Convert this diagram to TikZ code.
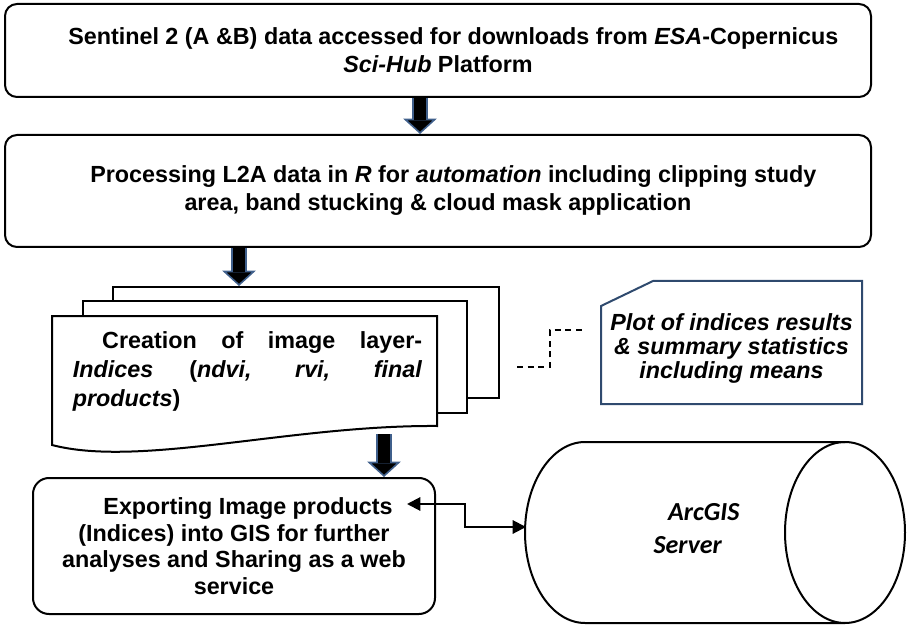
\documentclass[tikz,border=0pt]{standalone}
\usepackage{fontspec}
\setmainfont{Liberation Sans}
\newfontfamily\calibri{Carlito}
\usetikzlibrary{arrows.meta,positioning}
\definecolor{boxblue}{RGB}{47,74,110}
\definecolor{arrowblue}{RGB}{64,96,140}

\begin{document}
\begin{tikzpicture}[x=0.75pt, y=-0.75pt,
		flowbox/.style={draw, line width=1.5pt, rounded corners=9pt, align=center, inner sep=0pt,
			font=\fontsize{17.5}{21}\selectfont\bfseries},
		page/.style={draw, fill=white, line width=1.5pt, inner sep=0pt},
		bigarrow/.style={line width=9pt,
			-{Triangle[length=11.5pt, width=25pt, fill=black, color=arrowblue, line width=1.2pt]},
			preaction={draw=arrowblue, line width=11.4pt, -, shorten >=11pt},
			postaction={draw=black, line width=9pt, -, shorten >=10.5pt}},
		link/.style={line width=1.5pt, {Triangle[length=10pt, width=10pt]}-{Triangle[length=10pt, width=10pt]}},
		note/.style={line width=0.9pt, dash pattern=on 4.5pt off 3.5pt}]
		
		\useasboundingbox (0,0) rectangle (910,627);
		
		% download and pre-processing
		\node[flowbox, minimum width=649.5pt, minimum height=69.75pt] (sentinel) at (438,50.5)
		{\hspace*{23pt}Sentinel 2 (A \&B) data accessed for downloads from \textit{ESA}-Copernicus\\\textit{Sci-Hub} Platform};
		\node[flowbox, minimum width=649.5pt, minimum height=84pt, below=27pt of sentinel] (process)
		{\hspace*{23pt}Processing L2A data in \textit{R} for \textit{automation} including clipping study\\area, band stucking \& cloud mask application};
		
		% stack of image layers
		\node[page, minimum width=289.5pt, minimum height=83.25pt] (back) at (306,342.5) {};
		\node[page, minimum width=288pt, minimum height=84pt] (middle) at (275,357) {};
		\draw[page] (52,316) -- (437,316) -- (437,426) .. controls (290,425) and (140,468) .. (52,445) -- cycle;
		\node[text width=262pt, align=justify, inner sep=0pt, font=\fontsize{17.5}{21.4}\selectfont\bfseries] (layer) at (247.5,371.5)
		{\hspace*{22pt}Creation of image layer-\linebreak \textit{Indices} (\textit{ndvi, rvi, final}\linebreak \textit{products})};
		\coordinate (wave) at (384,434);
		
		% plots
		\draw[line width=1.5pt, draw=boxblue] (601,306) -- (653,281) -- (862,281) -- (862,404) -- (601,404) -- cycle;
		\node[align=center, inner sep=0pt, font=\fontsize{17.5}{18}\selectfont\bfseries\itshape] (plot) at (731.5,348)
		{Plot of indices results\\\& summary statistics\\including means};
		\coordinate (notestart) at (517,367);
		\coordinate (noteend) at (582,330);
		
		% export and server
		\node[flowbox, rounded corners=12pt, minimum width=301.5pt, minimum height=102pt,
		font=\fontsize{17.5}{20}\selectfont\bfseries] (export) at (234,546)
		{\hspace*{21pt}Exporting Image products\\(Indices) into GIS for further\\analyses and Sharing as a web\\service};
		\draw[line width=1.5pt] (845,442) -- (585,442) arc[start angle=270, end angle=90, x radius=60, y radius=90.5] -- (845,623);
		\draw[line width=1.5pt] (845,532.5) ellipse[x radius=60, y radius=90.5];
		\node[align=left, inner sep=0pt, font=\calibri\fontsize{19.5}{25}\selectfont\bfseries\itshape] (server) at (696.5,528.5)
		{\hspace*{11pt}ArcGIS\\Server};
		\coordinate (gisport) at (407,504);
		\coordinate (srvport) at (526,527);
		
		\draw[bigarrow] (sentinel.south -| 420,0) -- (process.north -| 420,0);
		\draw[bigarrow] (process.south -| 239,0) -- (back.north -| 239,0);
		\draw[bigarrow] (wave) -- (export.north -| wave);
		\draw[note] (notestart) -- ++(33,0) |- (noteend);
		\draw[link] (gisport) -- ++(58,0) |- (srvport);
		\end{tikzpicture}
\end{document}
